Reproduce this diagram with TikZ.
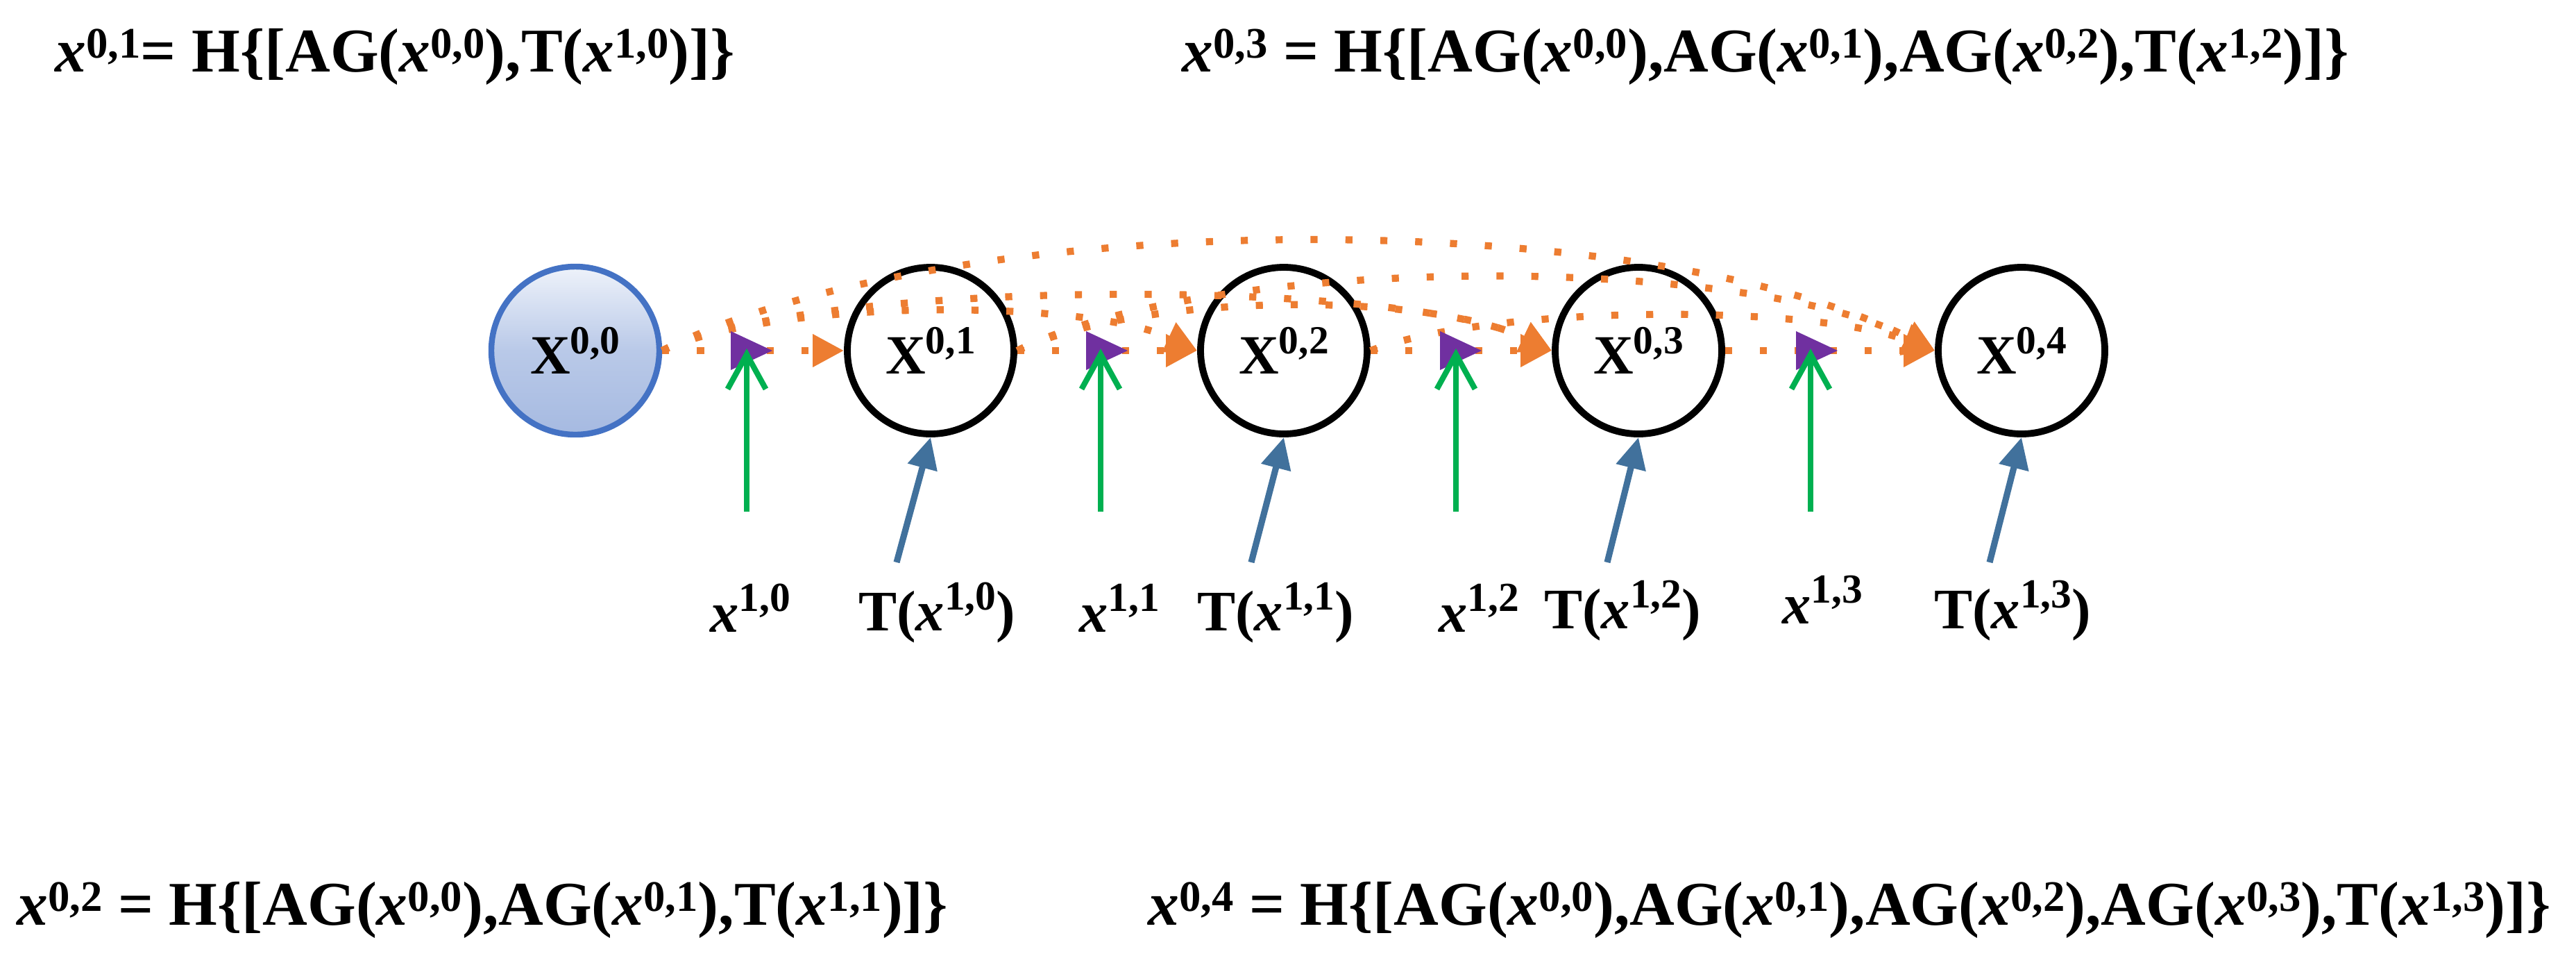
\documentclass[tikz,border=0pt]{standalone}
\usepackage{fontspec}
\usepackage{graphicx}
\setmainfont{Liberation Serif}
\usetikzlibrary{arrows.meta}
\definecolor{arcorange}{HTML}{ED7D31}
\definecolor{markpurple}{HTML}{7030A0}
\definecolor{feedgreen}{HTML}{00B050}
\definecolor{skipblue}{HTML}{41719C}
\definecolor{ringblue}{HTML}{4472C4}
\definecolor{shadetop}{HTML}{EEF2FA}
\definecolor{shademid}{HTML}{B9C9E8}
\definecolor{shadebot}{HTML}{A6BAE1}
% superscripts for the equations and for the labels
\newcommand{\tsup}[1]{\raisebox{0.22em}{\scalebox{0.7}{#1}}}
\newcommand{\lsup}[1]{\raisebox{0.36em}{\scalebox{0.72}{#1}}}
\newcommand{\tx}[1]{\textit{x}\tsup{#1}}
\newcommand{\lx}[1]{\textit{x}\lsup{#1}}
\newcommand{\eqfont}{\fontsize{25.5}{30}\selectfont\bfseries}
\newcommand{\labfont}{\fontsize{23.5}{28}\selectfont\bfseries}
\newcommand{\nodefont}{\fontsize{22.7}{27}\selectfont\bfseries}
\begin{document}
\begin{tikzpicture}[
	plain/.style={circle,draw=black,line width=2.8pt,fill=white,minimum size=2.4cm,inner sep=0pt,font=\nodefont},
	firstnode/.style={circle,draw=ringblue,line width=2.4pt,top color=shadetop,bottom color=shadebot,middle color=shademid,minimum size=2.42cm,inner sep=0pt,font=\nodefont},
	dotarc/.style={draw=arcorange,line width=2.9pt,dash pattern=on 2.9pt off 11.4pt,-{Triangle[length=0.45cm,width=0.45cm]}},
	feed/.style={draw=feedgreen,line width=2.3pt,-{Straight Barb[length=0.5cm,width=0.55cm]}},
	skip/.style={draw=skipblue,line width=2.6pt,-{Triangle[length=0.45cm,width=0.42cm]}},
	lab/.style={anchor=base,inner sep=0pt,font=\labfont},
	eq/.style={anchor=base west,inner sep=0pt,font=\eqfont}
	]
	\useasboundingbox (0,0) rectangle (37.12,-13.76);
	%%%%%%%% equations
	\node[eq] (e1) at (0.79,-1.03) {\tx{0,1}= H\{[AG(\tx{0,0}),T(\tx{1,0})]\}};
	\node[eq] (e3) at (17.03,-1.03) {\tx{0,3} = H\{[AG(\tx{0,0}),AG(\tx{0,1}),AG(\tx{0,2}),T(\tx{1,2})]\}};
	\node[eq] (e2) at (0.24,-13.32) {\tx{0,2} = H\{[AG(\tx{0,0}),AG(\tx{0,1}),T(\tx{1,1})]\}};
	\node[eq] (e4) at (16.54,-13.32) {\tx{0,4} = H\{[AG(\tx{0,0}),AG(\tx{0,1}),AG(\tx{0,2}),AG(\tx{0,3}),T(\tx{1,3})]\}};
	%%%%%%%% nodes
	\node[firstnode] (x00) at (8.29,-5.05) {X\lsup{0,0}};
	\node[plain] (x01) at (13.41,-5.05) {X\lsup{0,1}};
	\node[plain] (x02) at (18.50,-5.05) {X\lsup{0,2}};
	\node[plain] (x03) at (23.61,-5.05) {X\lsup{0,3}};
	\node[plain] (x04) at (29.13,-5.05) {X\lsup{0,4}};
	%%%%%%%% dense links
	\draw[dotarc] (x00) -- (x01);
	\draw[dotarc] (x01) -- (x02);
	\draw[dotarc] (x02) -- (x03);
	\draw[dotarc] (x03) -- (x04);
	\draw[dotarc] (x00.east) .. controls +(1.6,0.75) and +(-1.6,0.75) .. (x02.west);
	\draw[dotarc] (x01.east) .. controls +(1.8,0.85) and +(-1.8,0.85) .. (x03.west);
	\draw[dotarc] (x02.east) .. controls +(1.8,0.67) and +(-1.8,0.67) .. (x04.west);
	\draw[dotarc] (x00.east) .. controls +(2.2,1.05) and +(-2.2,1.05) .. (x03.west);
	\draw[dotarc] (x01.east) .. controls +(2.8,1.4) and +(-2.8,1.4) .. (x04.west);
	\draw[dotarc] (x00.east) .. controls +(4.2,2.1) and +(-4.2,2.1) .. (x04.west);
	%%%%%%%% aggregation marks
	\fill[markpurple] (10.53,-4.77) -- (11.13,-5.05) -- (10.53,-5.33) -- cycle;
	\fill[markpurple] (15.65,-4.77) -- (16.25,-5.05) -- (15.65,-5.33) -- cycle;
	\fill[markpurple] (20.75,-4.77) -- (21.35,-5.05) -- (20.75,-5.33) -- cycle;
	\fill[markpurple] (25.88,-4.77) -- (26.48,-5.05) -- (25.88,-5.33) -- cycle;
	\coordinate (m1) at (10.76,-5.02);
	\coordinate (m2) at (15.86,-5.02);
	\coordinate (m3) at (20.98,-5.02);
	\coordinate (m4) at (26.09,-5.02);
	\coordinate (f1) at (10.76,-7.37);
	\coordinate (f2) at (15.86,-7.37);
	\coordinate (f3) at (20.98,-7.37);
	\coordinate (f4) at (26.09,-7.37);
	\draw[feed] (f1) -- (m1);
	\draw[feed] (f2) -- (m2);
	\draw[feed] (f3) -- (m3);
	\draw[feed] (f4) -- (m4);
	%%%%%%%% transformed inputs
	\coordinate (s1) at (12.92,-8.10);
	\coordinate (s2) at (18.03,-8.10);
	\coordinate (s3) at (23.16,-8.10);
	\coordinate (s4) at (28.67,-8.10);
	\draw[skip] (s1) -- (x01.south);
	\draw[skip] (s2) -- (x02.south);
	\draw[skip] (s3) -- (x03.south);
	\draw[skip] (s4) -- (x04.south);
	%%%%%%%% labels
	\node[lab] (lx0) at (10.81,-9.10) {\lx{1,0}};
	\node[lab] (lt0) at (13.50,-9.08) {T(\lx{1,0})};
	\node[lab] (lx1) at (16.13,-9.10) {\lx{1,1}};
	\node[lab] (lt1) at (18.38,-9.08) {T(\lx{1,1})};
	\node[lab] (lx2) at (21.31,-9.10) {\lx{1,2}};
	\node[lab] (lt2) at (23.38,-9.05) {T(\lx{1,2})};
	\node[lab] (lx3) at (26.26,-8.98) {\lx{1,3}};
	\node[lab] (lt3) at (29.00,-9.05) {T(\lx{1,3})};
\end{tikzpicture}
\end{document}
